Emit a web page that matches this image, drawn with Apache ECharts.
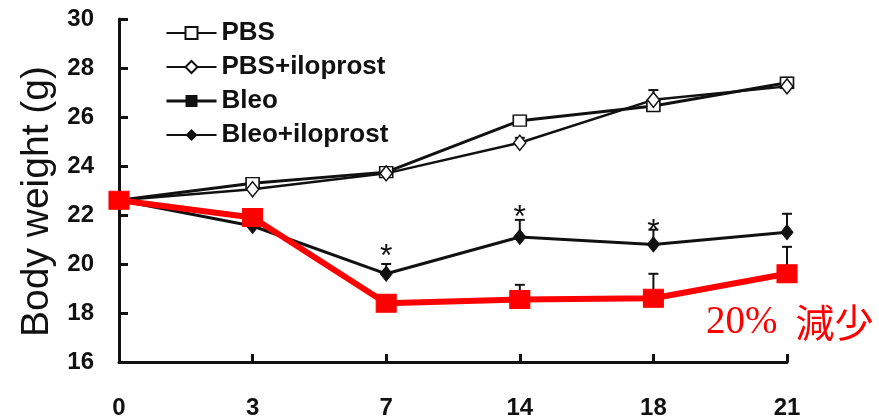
<!DOCTYPE html>
<html>
<head>
<meta charset="utf-8">
<script src="https://cdn.jsdelivr.net/npm/echarts@6/dist/echarts.min.js"></script>
<style>
  html, body { margin: 0; padding: 0; background: #fff; }
  #chart { width: 879px; height: 420px; }
</style>
</head>
<body>
<div id="chart"></div>
<script>
// Days after treatment (x categories) and y tick range
const days = ['0', '3', '7', '14', '18', '21'];
const yMin = 16, yMax = 30, yStep = 2;

// Mean body weight (g) per group
const pbs        = [22.6, 23.3, 23.75, 25.85, 26.45, 27.4];
const pbsIlo     = [22.6, 23.05, 23.7, 24.95, 26.7, 27.25];
const bleo       = [22.6, 21.9, 18.4, 18.55, 18.6, 19.6];
const bleoIlo    = [22.6, 21.55, 19.6, 21.1, 20.8, 21.3];

// Upper error (SEM) per group
const pbsErr     = [0, 0, 0, 0.2, 0.2, 0.2];
const pbsIloErr  = [0, 0, 0, 0.2, 0.4, 0.2];
const bleoErr    = [0, 0, 0, 0.6, 1.0, 1.1];
const bleoIloErr = [0, 0, 0.4, 0.7, 0.6, 0.75];

// Days marked as significant for Bleo+iloprost, with the gap of each star above its point
const sigDays = ['7', '14', '18'];
const sigGap  = [-1, 1, -6];

const groupNames = ['PBS', 'PBS+iloprost', 'Bleo', 'Bleo+iloprost'];

const chart = echarts.init(document.getElementById('chart'), null, { renderer: 'canvas' });

function errorSeries(values, errs, color, z) {
  return {
    type: 'custom',
    silent: true,
    z: z,
    data: values.map((v, i) => [i, v, v + errs[i]]),
    renderItem: function (params, api) {
      const base = api.coord([api.value(0), api.value(1)]);
      const top = api.coord([api.value(0), api.value(2)]);
      if (Math.abs(base[1] - top[1]) < 0.5) return null;
      const hw = 5;
      const style = { stroke: color, lineWidth: 2 };
      return {
        type: 'group',
        children: [
          { type: 'line', shape: { x1: base[0], y1: base[1], x2: top[0], y2: top[1] }, style: style },
          { type: 'line', shape: { x1: top[0] - hw, y1: top[1], x2: top[0] + hw, y2: top[1] }, style: style }
        ]
      };
    }
  };
}

const tickFont = "'Liberation Sans', Arial, sans-serif";

const option = {
  animation: false,
  backgroundColor: '#fff',
  grid: { left: 119, right: 92, top: 19, bottom: 57 },
  legend: {
    orient: 'vertical',
    left: 160,
    top: 15,
    itemWidth: 50,
    itemHeight: 15,
    itemGap: 8,
    selectedMode: false,
    textStyle: {
      fontFamily: "'Liberation Sans', Arial, sans-serif",
      fontWeight: 'bold',
      fontSize: 26,
      lineHeight: 26,
      color: '#111'
    },
    data: [
      { name: groupNames[0] },
      { name: groupNames[1] },
      { name: groupNames[2], itemStyle: { color: '#111', borderColor: '#111' }, lineStyle: { color: '#111', width: 3 } },
      { name: groupNames[3] }
    ]
  },
  xAxis: {
    type: 'category',
    data: days,
    boundaryGap: false,
    axisLine: { lineStyle: { color: '#111', width: 3 } },
    axisTick: { inside: true, length: 8, lineStyle: { color: '#111', width: 3 } },
    axisLabel: {
      margin: 34,
      fontFamily: tickFont,
      fontWeight: 'bold',
      fontSize: 24,
      color: '#111'
    },
    splitLine: { show: false }
  },
  yAxis: {
    type: 'value',
    min: yMin,
    max: yMax,
    interval: yStep,
    name: 'Body weight (g)',
    nameLocation: 'middle',
    nameGap: 62,
    nameTextStyle: {
      fontFamily: "'Liberation Sans', Arial, sans-serif",
      fontSize: 39,
      color: '#111',
      padding: [0, 22, 0, 0]
    },
    axisLine: { show: true, lineStyle: { color: '#111', width: 3 } },
    axisTick: { show: true, inside: true, length: 9, lineStyle: { color: '#111', width: 3 } },
    axisLabel: {
      margin: 25,
      fontFamily: tickFont,
      fontWeight: 'bold',
      fontSize: 24,
      color: '#111'
    },
    splitLine: { show: false }
  },
  series: [
    errorSeries(pbs, pbsErr, '#111', 2),
    errorSeries(pbsIlo, pbsIloErr, '#111', 2),
    errorSeries(bleoIlo, bleoIloErr, '#111', 2),
    errorSeries(bleo, bleoErr, '#111', 2),
    {
      name: groupNames[0],
      type: 'line',
      data: pbs,
      symbol: 'rect',
      symbolSize: [13, 11],
      z: 3,
      lineStyle: { color: '#111', width: 3 },
      itemStyle: { color: '#fff', borderColor: '#111', borderWidth: 1.5 }
    },
    {
      name: groupNames[1],
      type: 'line',
      data: pbsIlo,
      symbol: 'diamond',
      symbolSize: [12, 15],
      z: 3,
      lineStyle: { color: '#111', width: 2.5 },
      itemStyle: { color: '#fff', borderColor: '#111', borderWidth: 1.5 }
    },
    {
      name: groupNames[3],
      type: 'line',
      data: bleoIlo.map((v, i) => {
        const k = sigDays.indexOf(days[i]);
        return k >= 0 ? { value: v, label: { show: true, distance: sigGap[k] } } : v;
      }),
      symbol: 'diamond',
      symbolSize: [12, 15],
      z: 4,
      lineStyle: { color: '#111', width: 3 },
      itemStyle: { color: '#111', borderColor: '#111' },
      label: {
        show: false,
        position: 'top',
        formatter: '*',
        fontFamily: "'Liberation Sans', Arial, sans-serif",
        fontSize: 32,
        lineHeight: 20,
        color: '#111'
      }
    },
    {
      name: groupNames[2],
      type: 'line',
      data: bleo,
      symbol: 'rect',
      symbolSize: [20, 18],
      z: 5,
      lineStyle: { color: '#ff0000', width: 6 },
      itemStyle: { color: '#ff0000', borderColor: '#ff0000' }
    }
  ],
  graphic: [
    {
      type: 'text',
      left: 706,
      top: 303,
      z: 10,
      style: {
        text: '{a|20%}{b|減少}',
        rich: {
          a: { fontFamily: "'Liberation Serif', 'Times New Roman', serif", fontSize: 39, fill: '#ff0000' },
          b: { fontFamily: "'Noto Sans CJK JP', 'Noto Sans CJK SC', sans-serif", fontSize: 39, fill: '#ff0000', padding: [0, 0, 0, 18] }
        }
      }
    }
  ]
};

chart.setOption(option);
</script>
</body>
</html>
